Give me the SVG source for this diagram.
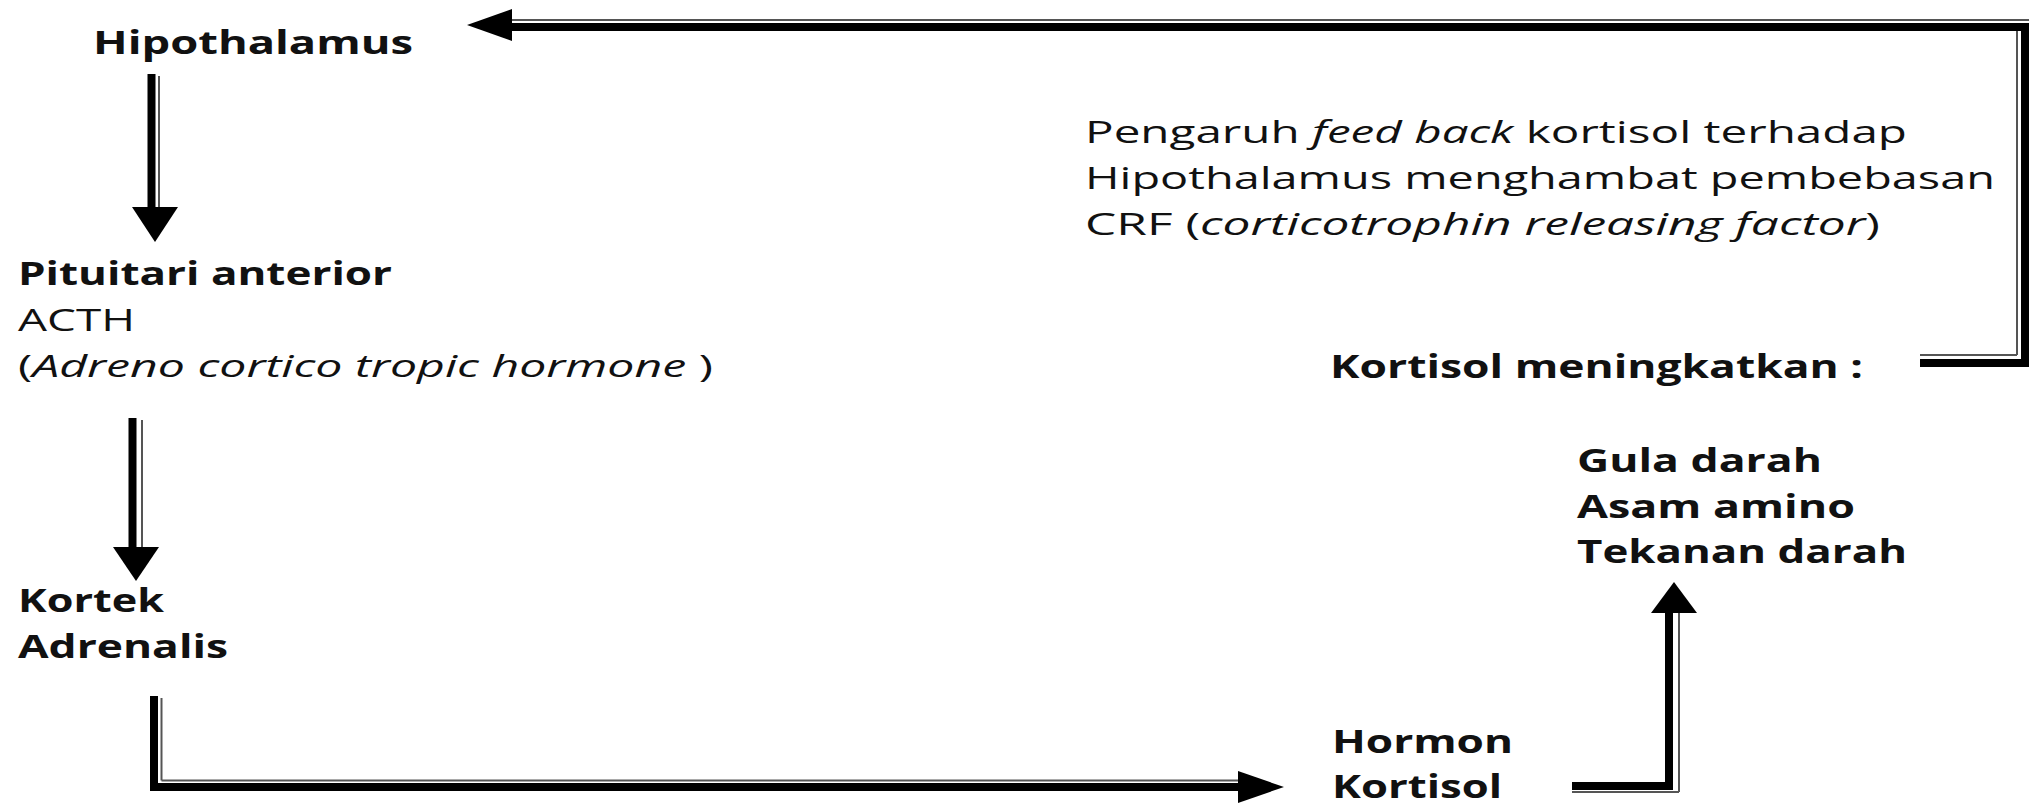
<svg xmlns="http://www.w3.org/2000/svg" width="2038" height="804" viewBox="0 0 2038 804">
<style>
text{font-family:"Open Sans","Liberation Sans",sans-serif;fill:#111;}
.b{font-weight:700;font-size:32px;}
.r{font-weight:400;font-size:31px;}
.i{font-style:italic;}
.thick{stroke:#000;stroke-width:8;fill:none;stroke-linecap:square;}
.thin{stroke:#555;stroke-width:2;fill:none;}
.head{fill:#000;}
</style>
<rect width="2038" height="804" fill="#fff"/>
<g id="connectors">
  <!-- Hipothalamus -> Pituitari -->
  <line class="thick" x1="151.5" y1="78" x2="151.5" y2="205"/>
  <line class="thin" x1="159" y1="76" x2="159" y2="207"/>
  <polygon class="head" points="132,207 178,207 155,242"/>
  <!-- Pituitari -> Kortek -->
  <line class="thick" x1="132.5" y1="422" x2="132.5" y2="546"/>
  <line class="thin" x1="142" y1="420" x2="142" y2="547"/>
  <polygon class="head" points="113,547 159,547 136,581"/>
  <!-- Kortek -> Hormon Kortisol -->
  <line class="thick" x1="154" y1="700" x2="154" y2="787"/>
  <line class="thin" x1="161.5" y1="698" x2="161.5" y2="780.5"/>
  <line class="thick" x1="154" y1="787" x2="1238" y2="787"/>
  <line class="thin" x1="161.5" y1="780.5" x2="1240" y2="780.5"/>
  <polygon class="head" points="1238,771 1238,803 1284,787"/>
  <!-- Hormon Kortisol -> Gula darah -->
  <line class="thick" x1="1576" y1="786" x2="1669" y2="786"/>
  <line class="thin" x1="1572" y1="792" x2="1679" y2="792"/>
  <line class="thick" x1="1669" y1="786" x2="1669" y2="615"/>
  <line class="thin" x1="1679" y1="792" x2="1679" y2="613"/>
  <polygon class="head" points="1651,613 1697,613 1674,582"/>
  <!-- Kortisol meningkatkan -> Hipothalamus (feedback) -->
  <line class="thin" x1="1920" y1="355" x2="2017" y2="355"/>
  <line class="thin" x1="2017" y1="355" x2="2017" y2="31"/>
  <line class="thick" x1="1924" y1="363" x2="2025" y2="363"/>
  <line class="thick" x1="2025" y1="363" x2="2025" y2="27"/>
  <line class="thick" x1="2025" y1="27" x2="512" y2="27"/>
  <line class="thin" x1="2029" y1="20" x2="510" y2="20"/>
  <polygon class="head" points="512,9 512,41 467,25"/>
</g>
<g id="hipothalamus">
  <text class="b" x="93" y="54" textLength="320" lengthAdjust="spacingAndGlyphs">Hipothalamus</text>
</g>
<g id="pituitari">
  <text class="b" x="18" y="285" textLength="374" lengthAdjust="spacingAndGlyphs">Pituitari anterior</text>
  <text class="r" x="18" y="331" textLength="117" lengthAdjust="spacingAndGlyphs">ACTH</text>
  <text class="r" x="18" y="377" textLength="695" lengthAdjust="spacingAndGlyphs">(<tspan class="i">Adreno cortico tropic hormone</tspan> )</text>
</g>
<g id="kortek">
  <text class="b" x="18" y="612" textLength="146" lengthAdjust="spacingAndGlyphs">Kortek</text>
  <text class="b" x="18" y="658" textLength="210" lengthAdjust="spacingAndGlyphs">Adrenalis</text>
</g>
<g id="hormon">
  <text class="b" x="1332" y="753" textLength="181" lengthAdjust="spacingAndGlyphs">Hormon</text>
  <text class="b" x="1332" y="798" textLength="170" lengthAdjust="spacingAndGlyphs">Kortisol</text>
</g>
<g id="efek">
  <text class="b" x="1577" y="472" textLength="245" lengthAdjust="spacingAndGlyphs">Gula darah</text>
  <text class="b" x="1577" y="518" textLength="278" lengthAdjust="spacingAndGlyphs">Asam amino</text>
  <text class="b" x="1577" y="563" textLength="330" lengthAdjust="spacingAndGlyphs">Tekanan darah</text>
</g>
<g id="kortisol-meningkatkan">
  <text class="b" x="1330" y="378" textLength="533" lengthAdjust="spacingAndGlyphs">Kortisol meningkatkan :</text>
</g>
<g id="feedback">
  <text class="r" x="1085" y="143" textLength="822" lengthAdjust="spacingAndGlyphs">Pengaruh <tspan class="i">feed back</tspan> kortisol terhadap</text>
  <text class="r" x="1085" y="189" textLength="910" lengthAdjust="spacingAndGlyphs">Hipothalamus menghambat pembebasan</text>
  <text class="r" x="1085" y="235" textLength="795" lengthAdjust="spacingAndGlyphs">CRF (<tspan class="i">corticotrophin releasing factor</tspan>)</text>
</g>
</svg>
